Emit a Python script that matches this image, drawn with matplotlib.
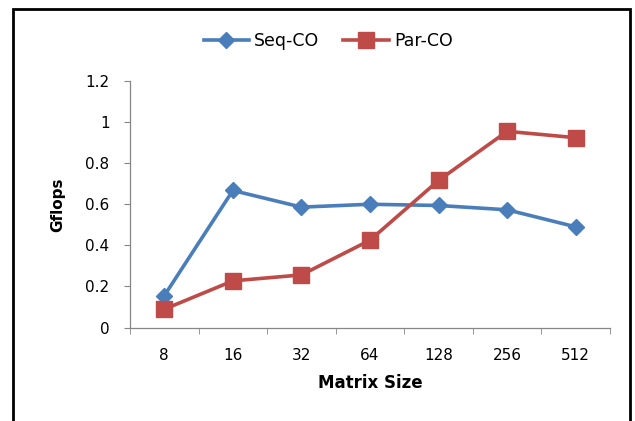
import matplotlib.pyplot as plt
from matplotlib.patches import Rectangle

# --- data ---
matrix_sizes = ['8', '16', '32', '64', '128', '256', '512']
seq_co = [0.155, 0.667, 0.586, 0.600, 0.594, 0.573, 0.490]
par_co = [0.089, 0.227, 0.256, 0.425, 0.716, 0.955, 0.924]

BLUE = '#4A7EBB'
RED = '#BE4B48'
AXIS_GREY = '#868686'

plt.rcParams['font.family'] = ['DejaVu Sans']
plt.rcParams['font.size'] = 11

fig = plt.figure(figsize=(6.35, 4.21), dpi=100)
ax = fig.add_axes([130 / 635, 1 - 327.5 / 421, 480 / 635, 246.5 / 421])

x = range(len(matrix_sizes))
ax.plot(x, seq_co, '-D', color=BLUE, lw=2.6, ms=7.8, label='Seq-CO')
ax.plot(x, par_co, '-s', color=RED, lw=2.6, ms=11, label='Par-CO')

ax.set_xlim(-0.5, len(matrix_sizes) - 0.5)
ax.set_ylim(0, 1.2)
ax.set_yticks([0, 0.2, 0.4, 0.6, 0.8, 1.0, 1.2])
ax.set_yticklabels(['0', '0.2', '0.4', '0.6', '0.8', '1', '1.2'])
ax.set_xticks(list(x))
ax.set_xticklabels(matrix_sizes)
# category separators as ticks between the labels
ax.set_xticks([i - 0.5 for i in range(len(matrix_sizes) + 1)], minor=True)
ax.tick_params(axis='x', which='major', length=0, pad=15)
ax.tick_params(axis='x', which='minor', length=4.3, color=AXIS_GREY, direction='out')
ax.tick_params(axis='y', length=4.3, color=AXIS_GREY, pad=10.5)

for side in ('top', 'right'):
    ax.spines[side].set_visible(False)
for side in ('left', 'bottom'):
    ax.spines[side].set_color(AXIS_GREY)
    ax.spines[side].set_linewidth(0.9)

ax.set_xlabel('Matrix Size', fontweight='bold', fontsize=12, labelpad=7.5)
ax.set_ylabel('Gflops', fontweight='bold', fontsize=11, labelpad=14)

fig.legend(loc='center', bbox_to_anchor=(328 / 635, 1 - 41 / 421), ncol=2,
           frameon=False, handlelength=2.6, columnspacing=1.4, handletextpad=0.3,
           fontsize=12.5)

# chart frame
fig.patches.append(Rectangle((13 / 635, -0.1), 617 / 635, 1.1 - 9 / 421,
                             transform=fig.transFigure, fill=False,
                             edgecolor='black', linewidth=2))

fig.savefig('out.png', dpi=100)
